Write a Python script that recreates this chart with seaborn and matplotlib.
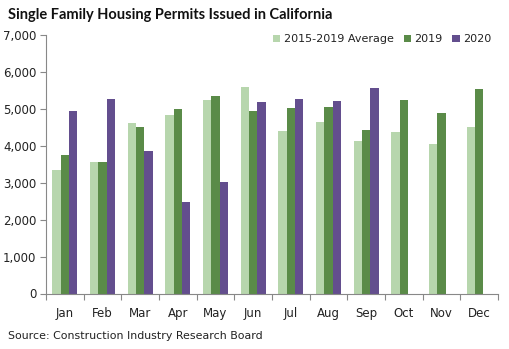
import matplotlib
matplotlib.use("Agg")
import matplotlib.pyplot as plt
import seaborn as sns
import pandas as pd
import numpy as np
from matplotlib.ticker import FuncFormatter, FixedLocator

months = ["Jan", "Feb", "Mar", "Apr", "May", "Jun", "Jul", "Aug", "Sep", "Oct", "Nov", "Dec"]
avg_2015_2019 = [3340, 3555, 4610, 4825, 5240, 5585, 4395, 4635, 4120, 4365, 4040, 4500]
y2019 = [3745, 3555, 4500, 4990, 5340, 4935, 5015, 5040, 4420, 5230, 4880, 5530]
y2020 = [4935, 5260, 3850, 2470, 3010, 5180, 5260, 5205, 5555, np.nan, np.nan, np.nan]
series = ["2015-2019 Average", "2019", "2020"]
colors = ["#B7D6AD", "#5A8B48", "#634E8E"]

df = pd.DataFrame({
    "Month": months * 3,
    "Series": [series[0]] * 12 + [series[1]] * 12 + [series[2]] * 12,
    "Permits": avg_2015_2019 + y2019 + y2020,
})

sns.set_theme(style="white")
plt.rcParams["font.family"] = ["DejaVu Sans"]

fig = plt.figure(figsize=(5.10, 3.49), dpi=100)
ax = fig.add_axes([46 / 510, 1 - 293.5 / 349, (498 - 46) / 510, (293.5 - 35) / 349])

sns.barplot(data=df, x="Month", y="Permits", hue="Series", order=months,
            hue_order=series, palette=colors, width=0.66, gap=0,
            saturation=1, ax=ax, legend=True, linewidth=0, edgecolor="none")

ax.set_xlim(-0.5, 11.5)
ax.set_ylim(0, 7000)
ax.set_yticks(range(0, 7001, 1000))
ax.yaxis.set_major_formatter(FuncFormatter(lambda v, p: f"{int(v):,}"))
ax.set_xlabel("")
ax.set_ylabel("")

for s in ["top", "right"]:
    ax.spines[s].set_visible(False)
for s in ["left", "bottom"]:
    ax.spines[s].set_color("#888888")
    ax.spines[s].set_linewidth(0.8)

ax.tick_params(axis="y", which="major", length=4, width=0.8, color="#888888",
               labelsize=8.5, labelcolor="#222222", pad=3, left=True, direction="out")
ax.tick_params(axis="x", which="major", length=0, labelsize=8.5, labelcolor="#222222", pad=10)
ax.xaxis.set_minor_locator(FixedLocator(np.arange(-0.5, 12, 1)))
ax.tick_params(axis="x", which="minor", length=4, width=0.8, color="#888888", bottom=True, direction="out")

leg = ax.legend(loc="upper right", bbox_to_anchor=(0.995, 1.02), ncol=3, frameon=False,
                fontsize=8, handlelength=0.65, handleheight=0.65, handletextpad=0.3,
                columnspacing=0.9, borderaxespad=0)
for t in leg.get_texts():
    t.set_color("#222222")

fig.text(8 / 510, 1 - 15 / 349, "Single Family Housing Permits Issued in California",
         fontsize=10.5, fontweight="bold", ha="left", va="center", color="#111111",
         family=["Lato", "DejaVu Sans"])
fig.text(8 / 510, 1 - 336 / 349, "Source: Construction Industry Research Board",
         fontsize=7.9, ha="left", va="center", color="#222222")

fig.savefig("out.png", dpi=100)
